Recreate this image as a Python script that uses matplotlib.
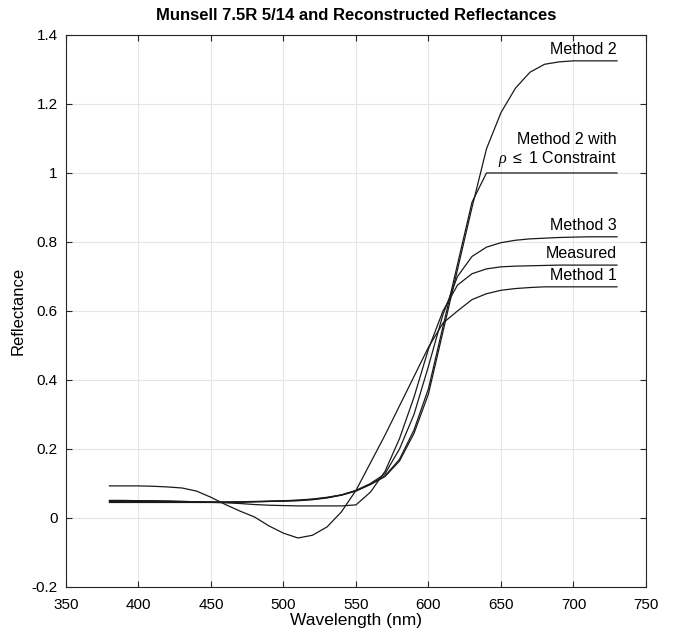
import numpy as np
import matplotlib
matplotlib.use('Agg')
import matplotlib.pyplot as plt
from matplotlib.ticker import FuncFormatter

plt.rcParams['font.family'] = ['Liberation Sans', 'DejaVu Sans']
plt.rcParams['axes.unicode_minus'] = False
plt.rcParams['mathtext.fontset'] = 'custom'
plt.rcParams['mathtext.rm'] = 'Liberation Sans'
plt.rcParams['mathtext.it'] = 'Liberation Serif:italic'

# wavelengths, 10 nm steps
wl = np.arange(380, 731, 10)

measured = [0.045, 0.045, 0.045, 0.045, 0.045, 0.045, 0.045, 0.045, 0.044, 0.042,
            0.039, 0.037, 0.036, 0.035, 0.035, 0.035, 0.035, 0.038, 0.075, 0.135,
            0.23, 0.35, 0.49, 0.60, 0.675, 0.708, 0.722, 0.728, 0.730, 0.731,
            0.732, 0.733, 0.733, 0.733, 0.733, 0.733]
method1 = [0.093, 0.093, 0.093, 0.092, 0.090, 0.087, 0.078, 0.060, 0.039, 0.020,
           0.003, -0.023, -0.044, -0.058, -0.050, -0.026, 0.018, 0.080, 0.160, 0.240,
           0.325, 0.410, 0.495, 0.565, 0.600, 0.633, 0.650, 0.660, 0.665, 0.668,
           0.670, 0.670, 0.670, 0.670, 0.670, 0.670]
method2 = [0.050, 0.050, 0.050, 0.049, 0.049, 0.048, 0.047, 0.046, 0.046, 0.046,
           0.047, 0.048, 0.049, 0.050, 0.053, 0.058, 0.066, 0.078, 0.097, 0.120,
           0.165, 0.245, 0.360, 0.540, 0.720, 0.900, 1.070, 1.175, 1.246, 1.292,
           1.315, 1.322, 1.325, 1.325, 1.325, 1.325]
method2c = [0.051, 0.051, 0.050, 0.050, 0.049, 0.048, 0.047, 0.046, 0.046, 0.046,
            0.047, 0.048, 0.049, 0.051, 0.054, 0.059, 0.067, 0.079, 0.098, 0.122,
            0.170, 0.255, 0.375, 0.555, 0.735, 0.915, 1.000, 1.000, 1.000, 1.000,
            1.000, 1.000, 1.000, 1.000, 1.000, 1.000]
method3 = [0.048, 0.048, 0.048, 0.048, 0.047, 0.047, 0.046, 0.046, 0.046, 0.047,
           0.048, 0.049, 0.050, 0.052, 0.055, 0.060, 0.067, 0.080, 0.100, 0.128,
           0.200, 0.300, 0.440, 0.590, 0.700, 0.758, 0.785, 0.798, 0.805, 0.809,
           0.811, 0.813, 0.814, 0.815, 0.815, 0.815]

series = [measured, method1, method2, method2c, method3]
labels = ['Measured', 'Method 1', 'Method 2',
          'Method 2 with\n$\\rho$ $\\leq$ 1 Constraint', 'Method 3']

fig = plt.figure(figsize=(6.76, 6.37), dpi=100)
ax = fig.add_axes([0.0976, 0.0785, 0.858, 0.8666])

for s in series:
    ax.plot(wl, s, color='#1a1a1a', lw=0.9)

for s, lab in zip(series, labels):
    ax.text(wl[-1], s[-1] + 0.012, lab, ha='right', va='bottom',
            fontsize=11.5, multialignment='right', linespacing=1.1)

ax.set_xlim(350, 750)
ax.set_ylim(-0.2, 1.4)
ax.set_xticks(np.arange(350, 751, 50))
ax.set_yticks(np.arange(-0.2, 1.41, 0.2))
ax.yaxis.set_major_formatter(FuncFormatter(lambda v, p: '%g' % round(v, 1)))
ax.grid(True, color='#e6e6e6', lw=0.8)
ax.set_axisbelow(True)
ax.tick_params(direction='in', top=True, right=True, labelsize=11,
               color='#262626', length=4)
ax.tick_params(axis='x', pad=8)
ax.tick_params(axis='y', pad=6)
for sp in ax.spines.values():
    sp.set_color('#262626')
    sp.set_linewidth(0.8)

ax.set_xlabel('Wavelength (nm)', fontsize=12.5, labelpad=1)
ax.set_ylabel('Reflectance', fontsize=12, labelpad=4)
ax.set_title('Munsell 7.5R 5/14 and Reconstructed Reflectances',
             fontsize=12, fontweight='bold', pad=11)

fig.savefig('out.png', dpi=100)
